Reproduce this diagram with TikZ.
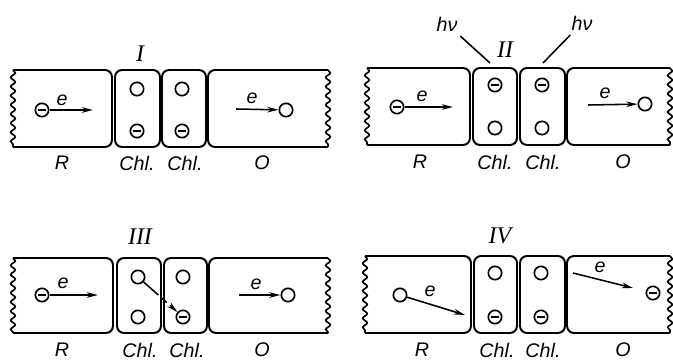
\documentclass[tikz,border=0pt]{standalone}
\usepackage{fontspec}
\setmainfont{Liberation Serif}
\setsansfont{Liberation Sans}
\usepackage{tikz}
\usetikzlibrary{arrows.meta,decorations.pathmorphing}
\begin{document}
\begin{tikzpicture}[x=0.025cm,y=-0.025cm,
cell/.style={line width=1.4pt,rounded corners=5pt},
wavy/.style={line width=1.2pt,decorate,decoration={snake,amplitude=1.6pt,segment length=6.5pt}},
hole/.style={circle,draw,line width=1.2pt,minimum size=9.5pt,inner sep=0pt},
elec/.style={hole,path picture={\draw[line width=1.2pt]([xshift=-3pt]path picture bounding box.center)--([xshift=3pt]path picture bounding box.center);}},
flow/.style={line width=1.1pt,-{Stealth[length=8pt,width=4pt]}},
lbl/.style={font=\fontsize{14}{16}\selectfont\sffamily\itshape},
num/.style={font=\fontsize{17}{19}\selectfont\itshape}]
\useasboundingbox(0,0)rectangle(673,361);
\draw[cell](13,70)--(112,70)--(112,147)--(13,147);\draw[wavy](13,70)--(13,147);
\draw[cell](115,70)rectangle(160,147);\draw[cell](162,70)rectangle(206,147);
\draw[cell](328,70)--(208,70)--(208,147)--(328,147);\draw[wavy](328,70)--(328,147);
\node[num](t1)at(140,54){I};
\node[elec](r1)at(42,110){};\coordinate(r1e)at(93,110);\draw[flow](r1)--(r1e);\node[lbl](e1)at(62,100){e};
\node[hole](c1a)at(137,89){};\node[elec](c1b)at(137,131){};\node[hole](c2a)at(182,89){};\node[elec](c2b)at(182,131){};
\coordinate(o1s)at(236,109);\node[hole](o1)at(286,110){};\draw[flow](o1s)--(o1);\node[lbl](e2)at(252,98){e};
\node[lbl](lr1)at(62,163){R};\node[lbl](lc1)at(137,163){Chl.};\node[lbl](lc2)at(185,163){Chl.};\node[lbl](lo1)at(262,163){O};
\draw[cell](367,68)--(470,68)--(470,145)--(367,145);\draw[wavy](367,68)--(367,145);
\draw[cell](473,68)rectangle(517,145);\draw[cell](520,68)rectangle(565,145);
\draw[cell](670,68)--(567,68)--(567,145)--(670,145);\draw[wavy](670,68)--(670,145);
\node[num](t2)at(505,50){II};
\node[lbl](hv1)at(447,24){hν};\coordinate(hv1e)at(490,63);\draw[line width=1.1pt](hv1)--(hv1e);
\node[lbl](hv2)at(582,23){hν};\coordinate(hv2e)at(543,63);\draw[line width=1.1pt](hv2)--(hv2e);
\node[elec](r2)at(397,107){};\coordinate(r2e)at(453,107);\draw[flow](r2)--(r2e);\node[lbl](e3)at(422,96){e};
\node[elec](c3a)at(495,85){};\node[hole](c3b)at(495,128){};\node[elec](c4a)at(542,85){};\node[hole](c4b)at(542,128){};
\coordinate(o2s)at(588,105);\node[hole](o2)at(645,104){};\draw[flow](o2s)--(o2);\node[lbl](e4)at(605,93){e};
\node[lbl](lr2)at(420,162){R};\node[lbl](lc3)at(495,162){Chl.};\node[lbl](lc4)at(543,162){Chl.};\node[lbl](lo2)at(623,162){O};
\draw[cell](13,258)--(113,258)--(113,333)--(13,333);\draw[wavy](13,258)--(13,333);
\draw[cell](117,258)rectangle(161,333);\draw[cell](164,258)rectangle(207,333);
\draw[cell](328,258)--(209,258)--(209,333)--(328,333);\draw[wavy](328,258)--(328,333);
\node[num](t3)at(140,237){III};
\node[elec](r3)at(42,295){};\coordinate(r3e)at(98,295);\draw[flow](r3)--(r3e);\node[lbl](e5)at(63,283){e};
\node[hole](c5a)at(138,277){};\node[hole](c5b)at(138,317){};\node[hole](c6a)at(183,277){};\node[elec](c6b)at(183,317){};
\draw[flow,dash pattern=on 14pt off 3pt on 5pt off 3pt](c5a)--(c6b);
\coordinate(o3s)at(239,295);\node[hole](o3)at(288,295){};\draw[flow](o3s)--(o3);\node[lbl](e6)at(256,284){e};
\node[lbl](lr3)at(62,350){R};\node[lbl](lc5)at(140,350){Chl.};\node[lbl](lc6)at(187,350){Chl.};\node[lbl](lo3)at(262,350){O};
\draw[cell](365,256)--(471,256)--(471,333)--(365,333);\draw[wavy](365,256)--(365,333);
\draw[cell](474,256)rectangle(517,333);\draw[cell](520,256)rectangle(565,333);
\draw[cell](670,256)--(567,256)--(567,333)--(670,333);\draw[wavy](670,256)--(670,333);
\node[num](t4)at(500,236){IV};
\node[hole](r4)at(400,295){};\coordinate(r4e)at(465,315);\draw[flow](r4)--(r4e);\node[lbl](e7)at(430,291){e};
\node[hole](c7a)at(495,273){};\node[elec](c7b)at(495,317){};\node[hole](c8a)at(541,273){};\node[elec](c8b)at(541,317){};
\coordinate(o4s)at(573,273);\coordinate(o4e)at(633,288);\draw[flow](o4s)--(o4e);\node[elec](o4)at(653,293){};\node[lbl](e8)at(600,267){e};
\node[lbl](lr4)at(422,350){R};\node[lbl](lc7)at(497,350){Chl.};\node[lbl](lc8)at(543,350){Chl.};\node[lbl](lo4)at(623,350){O};
\end{tikzpicture}
\end{document}
